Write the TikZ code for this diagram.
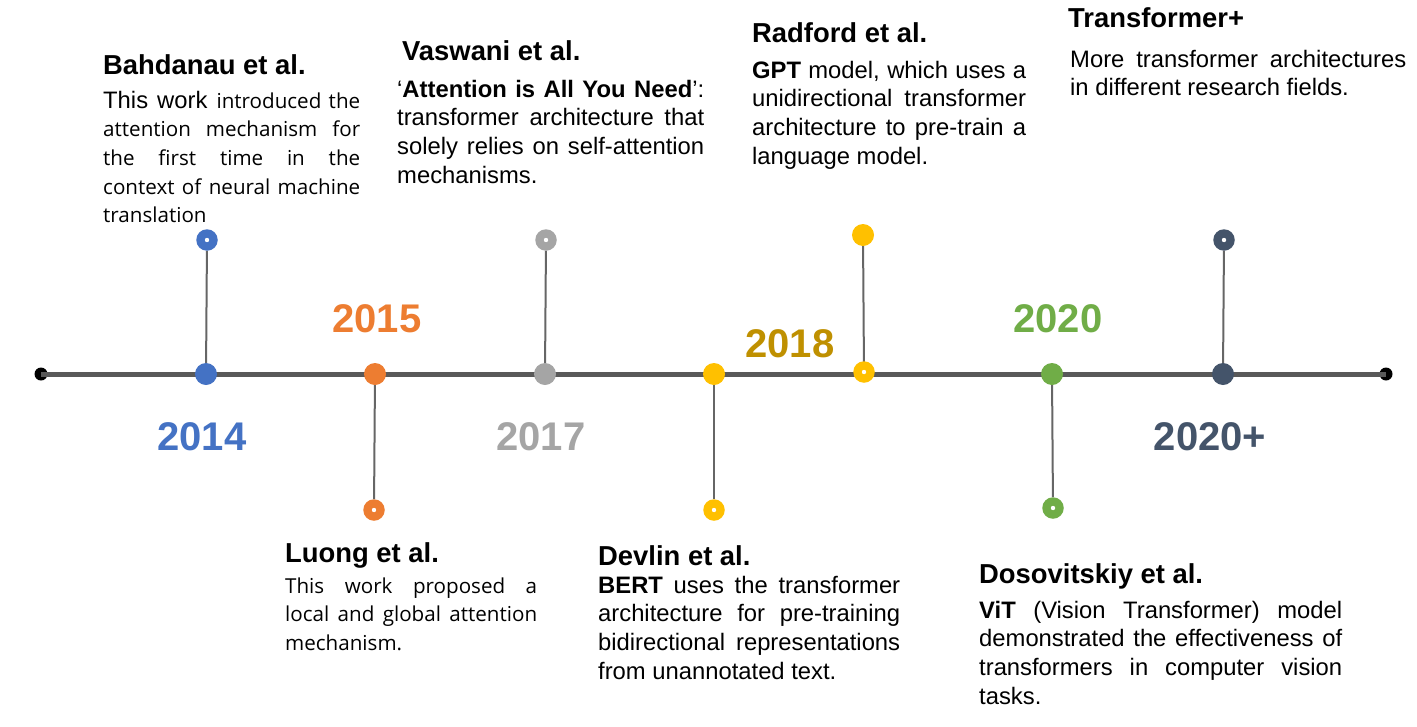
\documentclass[tikz,border=0pt]{standalone}
\usepackage{fontspec}
\setmainfont{Liberation Sans}
\newfontfamily\segoe{Open Sans}
\definecolor{cblue}{HTML}{4472C4}
\definecolor{corange}{HTML}{ED7D31}
\definecolor{cgray}{HTML}{A5A5A5}
\definecolor{cyellow}{HTML}{FFC000}
\definecolor{cdyellow}{HTML}{BF9000}
\definecolor{cgreen}{HTML}{70AD47}
\definecolor{cnavy}{HTML}{44546A}
\definecolor{axisgray}{HTML}{595959}
\definecolor{stemgray}{HTML}{666666}
\newcommand{\jl}[1]{\makebox[\linewidth][s]{#1}}
\newcommand{\sg}[1]{{\segoe\fontsize{20.6}{28.7}\selectfont #1}}
\newcommand{\bodytext}[2]{\parbox[t]{#1}{\fontsize{23.8}{28.7}\selectfont #2}}
\tikzset{
  axisline/.style={line width=5pt, draw=axisgray},
  stemline/.style={line width=2pt, draw=stemgray},
  bigdot/.style={circle, fill=#1, minimum size=22pt, inner sep=0pt},
  ringdot/.style={circle, fill=#1, minimum size=21.5pt, inner sep=0pt,
    path picture={\fill[white] (path picture bounding box.center) circle (2.2pt);}},
  enddot/.style={circle, fill=black, minimum size=13pt, inner sep=0pt},
  yearlabel/.style={font=\fontsize{40}{48}\selectfont\bfseries, anchor=base, text=#1, inner sep=0pt},
  heading/.style={font=\fontsize{27.4}{33}\selectfont\bfseries, anchor=base west, inner sep=0pt},
  bodynode/.style={anchor=base west, inner sep=0pt},
}
\begin{document}
\begin{tikzpicture}[x=1pt, y=-1pt]
\useasboundingbox (0,0) rectangle (1417,726);
% axis
\node[enddot] (e1) at (41,374) {};
\node[enddot] (e2) at (1386,374) {};
\draw[axisline] (e1.center) -- (e2.center);
% dots on axis and ends of stems
\coordinate (c14) at (206,374);
\coordinate (c15) at (375,374);
\coordinate (c17) at (545,374);
\coordinate (c18) at (714,374);
\coordinate (c18b) at (864,372);
\coordinate (c20) at (1052,374);
\coordinate (c20p) at (1223,374);
\node[ringdot=cblue] (t14) at (207,240) {};
\node[ringdot=corange] (t15) at (374,510) {};
\node[ringdot=cgray] (t17) at (546,240) {};
\node[ringdot=cyellow] (t18) at (714,510) {};
\node[bigdot=cyellow] (t18b) at (863,235) {};
\node[ringdot=cgreen] (t20) at (1053,508) {};
\node[ringdot=cnavy] (t20p) at (1224,240) {};
\draw[stemline] (c14) -- (t14);
\draw[stemline] (c15) -- (t15);
\draw[stemline] (c17) -- (t17);
\draw[stemline] (c18) -- (t18);
\draw[stemline] (c18b) -- (t18b);
\draw[stemline] (c20) -- (t20);
\draw[stemline] (c20p) -- (t20p);
\node[bigdot=cblue] (d14) at (c14) {};
\node[bigdot=corange] (d15) at (c15) {};
\node[bigdot=cgray] (d17) at (c17) {};
\node[bigdot=cyellow] (d18) at (c18) {};
\node[ringdot=cyellow] (d18b) at (c18b) {};
\node[bigdot=cgreen] (d20) at (c20) {};
\node[bigdot=cnavy] (d20p) at (c20p) {};
% years
\node[yearlabel=cblue] (y14) at (202,450) {2014};
\node[yearlabel=corange] (y15) at (377,332) {2015};
\node[yearlabel=cgray] (y17) at (541,450) {2017};
\node[yearlabel=cdyellow] (y18) at (790,357) {2018};
\node[yearlabel=cgreen] (y20) at (1058,332) {2020};
\node[yearlabel=cnavy] (y20p) at (1210,450) {2020+};
% Bahdanau
\node[heading] (h14) at (103,74) {Bahdanau et al.};
\node[bodynode] (b14) at (103,108) {\bodytext{257pt}{%
\jl{This work \sg{introduced the}}\\
\jl{\sg{attention mechanism for}}\\
\jl{\sg{the first time in the}}\\
\jl{\sg{context of neural machine}}\\
\sg{translation}}};
% Vaswani
\node[heading] (h17) at (402,60) {Vaswani et al.};
\node[bodynode] (b17) at (397,97) {\bodytext{307pt}{%
\jl{‘\textbf{Attention is All You Need}’:}\\
\jl{transformer architecture that}\\
\jl{solely relies on self-attention}\\
mechanisms.}};
% Radford
\node[heading] (h18b) at (752,42) {Radford et al.};
\node[bodynode] (b18b) at (752,78) {\bodytext{274pt}{%
\jl{\textbf{GPT} model, which uses a}\\
\jl{unidirectional transformer}\\
\jl{architecture to pre-train a}\\
language model.}};
% Transformer+
\node[heading] (h20p) at (1068,27) {Transformer+};
\node[bodynode] (b20p) at (1070,67) {\bodytext{336pt}{%
\jl{More transformer architectures}\\
in different research fields.}};
% Luong
\node[heading] (h15) at (285,562) {Luong et al.};
\node[bodynode] (b15) at (285,593) {\bodytext{252pt}{%
\jl{\sg{This work proposed a}}\\
\jl{\sg{local and global attention}}\\
\sg{mechanism.}}};
% Devlin
\node[heading] (h18) at (598,565) {Devlin et al.};
\node[bodynode] (b18) at (598,593) {\bodytext{302pt}{%
\jl{\textbf{BERT} uses the transformer}\\
\jl{architecture for pre-training}\\
\jl{bidirectional representations}\\
from unannotated text.}};
% Dosovitskiy
\node[heading] (h20) at (979,583) {Dosovitskiy et al.};
\node[bodynode] (b20) at (979,618) {\bodytext{363pt}{%
\jl{\textbf{ViT} (Vision Transformer) model}\\
\jl{demonstrated the effectiveness of}\\
\jl{transformers in computer vision}\\
tasks.}};
\end{tikzpicture}
\end{document}
